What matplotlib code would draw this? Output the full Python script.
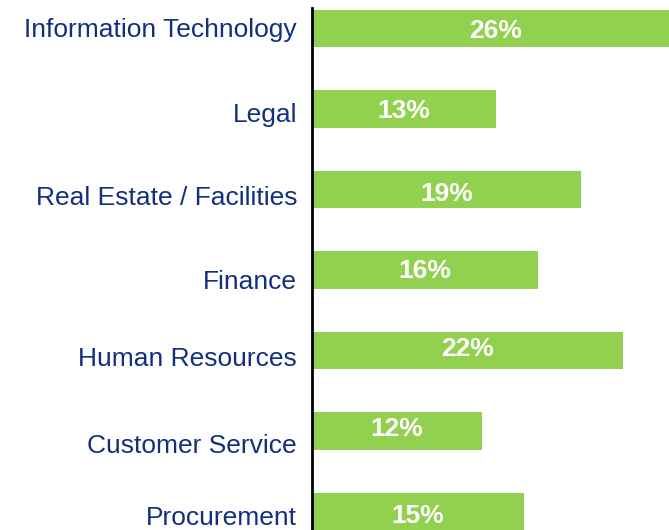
import matplotlib
matplotlib.use("Agg")
import matplotlib.pyplot as plt
import matplotlib.transforms as mtransforms

categories = ["Information Technology", "Legal", "Real Estate / Facilities", "Finance",
              "Human Resources", "Customer Service", "Procurement"]
values = [26, 13, 19, 16, 22, 12, 15]
value_labels = ["26%", "13%", "19%", "16%", "22%", "12%", "15%"]

# baseline drop below each bar centre (pixels) as seen in the reference
cat_baseline = [8.5, 13, 15, 18.5, 16, 22, 14]
val_baseline = [9, 9, 11, 7.7, 6, 5, 12]

plt.rcParams['font.family'] = ['Liberation Sans', 'DejaVu Sans']

W, H = 669, 530
DPI = 100
fig = plt.figure(figsize=(W / DPI, H / DPI), dpi=DPI)
ax = fig.add_axes([312 / W, 0, 1 - 312 / W, 522 / H])

pos = list(range(len(categories)))
ax.barh(pos, values, height=0.47, color="#92D050", zorder=2)

blend = mtransforms.blended_transform_factory(ax.transAxes, ax.transData)
for p, cat, dy in zip(pos, categories, cat_baseline):
    tr = blend + mtransforms.ScaledTranslation(-15 / DPI, -dy / DPI, fig.dpi_scale_trans)
    ax.text(0, p, cat, ha="right", va="baseline", fontsize=19, color="#13307F",
            transform=tr, clip_on=False)

for p, v, lab, dy in zip(pos, values, value_labels, val_baseline):
    tr = ax.transData + mtransforms.ScaledTranslation(0, -dy / DPI, fig.dpi_scale_trans)
    ax.text(v / 2, p, lab, ha="center", va="baseline", color="white",
            fontsize=19, fontweight="bold", zorder=3, transform=tr)

ax.set_yticks([])
ax.set_xticks([])
ax.set_xlim(0, 25.23)
ax.set_ylim(6.23, -0.255)
for s in ["top", "right", "bottom"]:
    ax.spines[s].set_visible(False)
ax.spines["left"].set_color("black")
ax.spines["left"].set_linewidth(2)
ax.spines["left"].set_zorder(4)

fig.savefig("out.png", dpi=DPI)
